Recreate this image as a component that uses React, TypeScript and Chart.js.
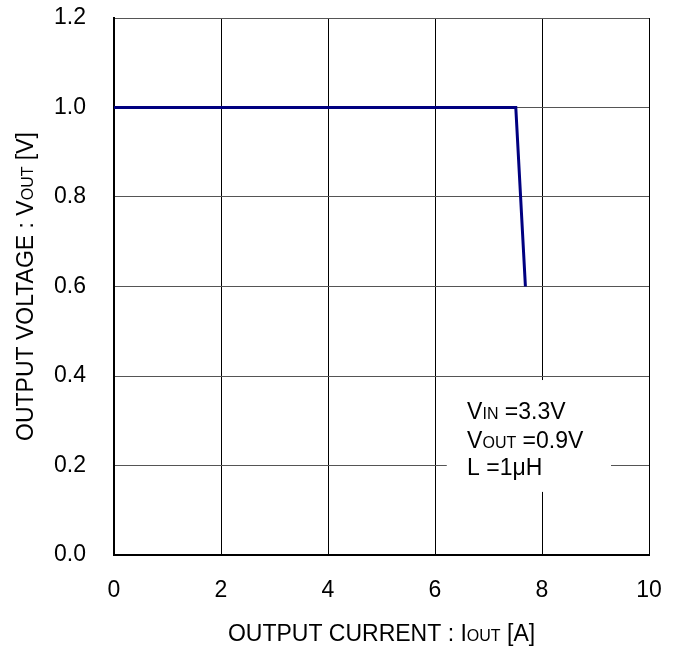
import React, { useEffect, useRef } from "react";
import { Chart, registerables } from "chart.js";

Chart.register(...registerables);

const currentA = [0, 7.51, 7.69];
const voltageV = [1.0, 1.0, 0.6];
const xTicks = [0, 2, 4, 6, 8, 10];
const yTicks = [0.0, 0.2, 0.4, 0.6, 0.8, 1.0, 1.2];

type Seg = { t: string; small?: boolean };
const conditionLines: Seg[][] = [
  [{ t: "V" }, { t: "IN", small: true }, { t: " =3.3V" }],
  [{ t: "V" }, { t: "OUT", small: true }, { t: " =0.9V" }],
  [{ t: "L =1μH" }],
];
const xTitle: Seg[] = [{ t: "OUTPUT CURRENT : I" }, { t: "OUT", small: true }, { t: " [A]" }];
const yTitle: Seg[] = [{ t: "OUTPUT VOLTAGE : V" }, { t: "OUT", small: true }, { t: " [V]" }];

const FAMILY = "'Liberation Sans', Arial, sans-serif";
const BIG = `23px ${FAMILY}`;
const SMALL = `16px ${FAMILY}`;

function segWidth(ctx: CanvasRenderingContext2D, segs: Seg[]) {
  let w = 0;
  for (const s of segs) {
    ctx.font = s.small ? SMALL : BIG;
    w += ctx.measureText(s.t).width;
  }
  return w;
}

function drawSegs(ctx: CanvasRenderingContext2D, segs: Seg[], x: number, y: number) {
  let cx = x;
  ctx.textBaseline = "alphabetic";
  ctx.textAlign = "left";
  for (const s of segs) {
    ctx.font = s.small ? SMALL : BIG;
    ctx.fillText(s.t, cx, y);
    cx += ctx.measureText(s.t).width;
  }
}

const overlayPlugin = {
  id: "overlay",
  beforeDatasetsDraw(chart: any) {
    const { ctx, scales } = chart;
    const x = scales.x;
    const y = scales.y;
    const bx0 = x.getPixelForValue(6.22);
    const bx1 = x.getPixelForValue(9.29);
    const by0 = y.getPixelForValue(0.391);
    const by1 = y.getPixelForValue(0.141);
    ctx.save();
    ctx.fillStyle = "#ffffff";
    ctx.fillRect(bx0, by0, bx1 - bx0, by1 - by0);
    ctx.fillStyle = "#000000";
    const tx = x.getPixelForValue(6.6);
    const baseVals = [0.303, 0.24, 0.178];
    conditionLines.forEach((segs, i) => {
      drawSegs(ctx, segs, tx, y.getPixelForValue(baseVals[i]));
    });
    ctx.restore();
  },
  afterDraw(chart: any) {
    const { ctx, chartArea } = chart;
    ctx.save();
    ctx.fillStyle = "#000000";
    const cx = (chartArea.left + chartArea.right) / 2;
    const wx = segWidth(ctx, xTitle);
    drawSegs(ctx, xTitle, cx - wx / 2, 641);
    const cy = (chartArea.top + chartArea.bottom) / 2;
    const wy = segWidth(ctx, yTitle);
    ctx.translate(33, cy);
    ctx.rotate(-Math.PI / 2);
    drawSegs(ctx, yTitle, -wy / 2, 0);
    ctx.restore();
  },
};

export default function App() {
  const ref = useRef<HTMLCanvasElement | null>(null);
  useEffect(() => {
    if (!ref.current) return;
    const chart = new Chart(ref.current, {
      type: "line",
      data: {
        datasets: [
          {
            data: currentA.map((v, i) => ({ x: v, y: voltageV[i] })),
            borderColor: "#000080",
            borderWidth: 3,
            pointRadius: 0,
            tension: 0,
            fill: false,
          },
        ],
      },
      options: {
        responsive: false,
        animation: false,
        layout: { padding: { left: 0, right: 30, top: 18, bottom: 0 } },
        plugins: { legend: { display: false }, tooltip: { enabled: false } },
        scales: {
          x: {
            type: "linear",
            min: 0,
            max: 10,
            afterFit: (s: any) => {
              s.height = 98;
              s.paddingLeft = 0;
              s.paddingRight = 0;
            },
            afterBuildTicks: (s: any) => {
              s.ticks = xTicks.map((v) => ({ value: v }));
            },
            ticks: {
              color: "#000",
              padding: 22,
              font: { family: FAMILY, size: 23 },
              maxRotation: 0,
              callback: (v: any) => String(v),
            },
            grid: { color: "#000", lineWidth: 1, drawTicks: false },
            border: { color: "#000", width: 2 },
          },
          y: {
            type: "linear",
            min: 0,
            max: 1.2,
            afterFit: (s: any) => {
              s.width = 114;
              s.paddingTop = 0;
              s.paddingBottom = 0;
            },
            afterBuildTicks: (s: any) => {
              s.ticks = yTicks.map((v) => ({ value: v }));
            },
            ticks: {
              color: "#000",
              padding: 28,
              font: { family: FAMILY, size: 23 },
              callback: (v: any) => Number(v).toFixed(1),
            },
            grid: { color: "#555", lineWidth: 1, drawTicks: false },
            border: { color: "#000", width: 2 },
          },
        },
      },
      plugins: [overlayPlugin],
    });
    return () => chart.destroy();
  }, []);
  return (
    <div style={{ position: "absolute", left: 0, top: 0, width: 679, height: 653, background: "#fff" }}>
      <canvas ref={ref} width={679} height={653} />
    </div>
  );
}
